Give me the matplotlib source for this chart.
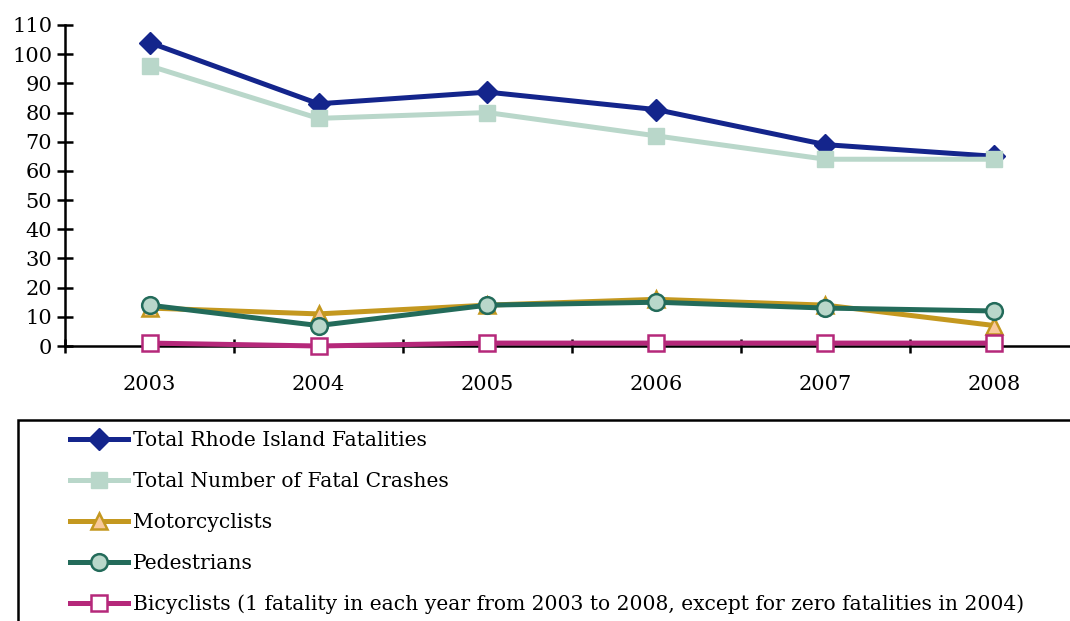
import matplotlib
matplotlib.use("Agg")
import matplotlib.pyplot as plt
from matplotlib.patches import Rectangle
from matplotlib.ticker import FixedLocator

years = ["2003", "2004", "2005", "2006", "2007", "2008"]
total_fatalities = [104, 83, 87, 81, 69, 65]
fatal_crashes = [96, 78, 80, 72, 64, 64]
motorcyclists = [13, 11, 14, 16, 14, 7]
pedestrians = [14, 7, 14, 15, 13, 12]
bicyclists = [1, 0, 1, 1, 1, 1]

labels = [
    "Total Rhode Island Fatalities",
    "Total Number of Fatal Crashes",
    "Motorcyclists",
    "Pedestrians",
    "Bicyclists (1 fatality in each year from 2003 to 2008, except for zero fatalities in 2004)",
]

plt.rcParams['font.family'] = ['DejaVu Serif']

W, H = 1070, 621
fig = plt.figure(figsize=(W / 100, H / 100), dpi=100)
ax = fig.add_axes([65 / W, 1 - 346 / H, (1070 - 65) / W, (346 - 25) / H])

x = list(range(len(years)))
lw = 3.6
ax.plot(x, total_fatalities, color="#14258C", lw=lw, marker="D", ms=11,
        mfc="#14258C", mec="#14258C", label=labels[0], clip_on=False, zorder=3)
ax.plot(x, fatal_crashes, color="#B9D7CA", lw=lw, marker="s", ms=12,
        mfc="#B9D7CA", mec="#B9D7CA", label=labels[1], clip_on=False, zorder=4)
ax.plot(x, motorcyclists, color="#C4981F", lw=lw, marker="^", ms=11,
        mfc="#F8C99B", mec="#C4981F", mew=1.8, label=labels[2], clip_on=False, zorder=5)
ax.plot(x, pedestrians, color="#236B5A", lw=lw, marker="o", ms=12,
        mfc="#B9D7CA", mec="#236B5A", mew=1.8, label=labels[3], clip_on=False, zorder=6)
ax.plot(x, bicyclists, color="#B5287A", lw=lw, marker="s", ms=12,
        mfc="white", mec="#B5287A", mew=1.8, label=labels[4], clip_on=False, zorder=7)

ax.set_xlim(-0.5, -0.5 + (1070 - 65) / 169)
ax.set_ylim(0, 110)
ax.set_yticks(range(0, 111, 10))
ax.set_xticks(x)
ax.set_xticklabels(years)
ax.xaxis.set_minor_locator(FixedLocator([i + 0.5 for i in range(-1, 6)]))

for s in ["top", "right"]:
    ax.spines[s].set_visible(False)
for s in ["left", "bottom"]:
    ax.spines[s].set_linewidth(1.8)
    ax.spines[s].set_color("black")

ax.tick_params(axis="y", direction="inout", length=11.5, width=1.8, pad=3.5,
               labelsize=15, colors="black")
ax.tick_params(axis="x", which="major", length=0, pad=21, labelsize=15)
ax.tick_params(axis="x", which="minor", direction="inout", length=10, width=1.8)

handles, labs = ax.get_legend_handles_labels()
leg = fig.legend(handles, labs, loc="upper left",
                 bbox_to_anchor=(70 / W, 1 - 431 / H), frameon=False,
                 fontsize=14.6, handlelength=2.85, handletextpad=0.25,
                 labelspacing=1.08, borderaxespad=0, borderpad=0)

fig.patches.append(Rectangle((18 / W, -0.05), 1.1, (1 - 420 / H) + 0.05,
                             transform=fig.transFigure, fill=False,
                             edgecolor="black", lw=1.8))

fig.savefig("out.png", dpi=100)
